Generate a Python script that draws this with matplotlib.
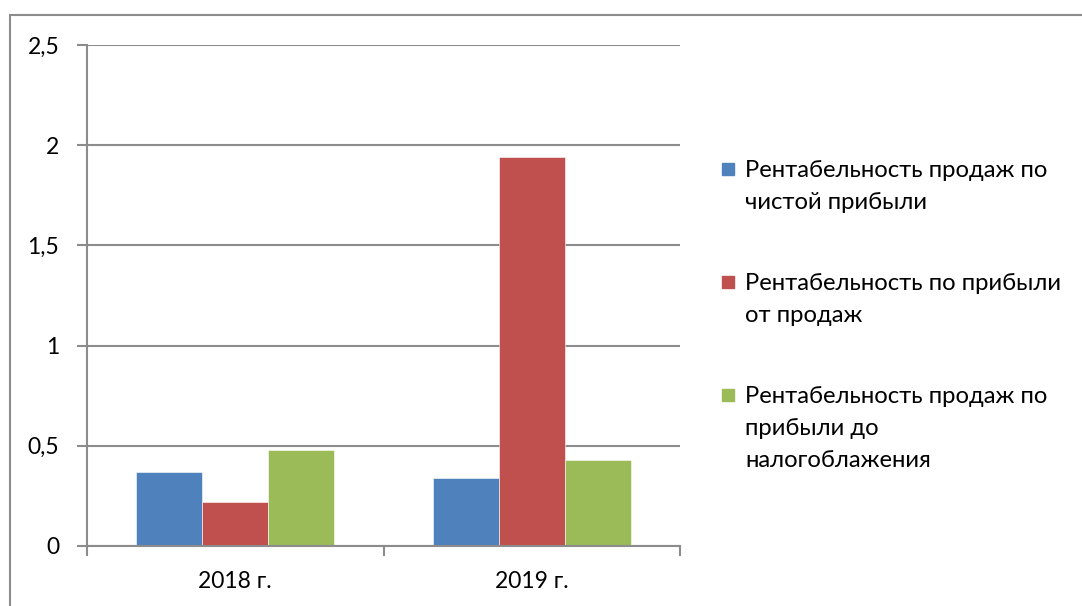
import matplotlib.pyplot as plt
from matplotlib.patches import Rectangle
import numpy as np

plt.rcParams['font.family'] = ['Lato', 'DejaVu Sans']

years = ['2018 г.', '2019 г.']
series = ['Рентабельность продаж по\nчистой прибыли',
          'Рентабельность по прибыли\nот продаж',
          'Рентабельность продаж по\nприбыли до\nналогоблажения']
net_profit = [0.37, 0.34]
sales_profit = [0.22, 1.94]
pretax_profit = [0.48, 0.43]
colors = ['#4F81BD', '#C0504D', '#9BBB59']
yticks = [0, 0.5, 1, 1.5, 2, 2.5]

W, H = 1082, 606
fig = plt.figure(figsize=(W / 100, H / 100), dpi=100)
ax = fig.add_axes([87 / W, 1 - 546 / H, (680 - 87) / W, (546 - 45) / H])

# outer chart border (only top/left visible in the crop)
fig.patches.append(Rectangle((10 / W, -0.1), 1.2, 1 - 15 / H + 0.1,
                             transform=fig.transFigure, fill=False,
                             edgecolor='#8c8c8c', linewidth=1.5))

x = np.arange(len(years))
w = 1 / 4.5
for i, vals in enumerate([net_profit, sales_profit, pretax_profit]):
    ax.bar(x + (i - 1) * w, vals, width=w, color=colors[i],
           edgecolor='white', linewidth=0.4, zorder=3)

ax.set_xlim(-0.5, 1.5)
ax.set_ylim(0, 2.5)
ax.set_yticks(yticks)
ax.set_yticklabels([('%g' % v).replace('.', ',') for v in yticks])
ax.set_xticks([-0.5, 0.5, 1.5])
ax.set_xticklabels([])
ax.set_xticks(x, minor=True)
ax.set_xticklabels(years, minor=True)
ax.tick_params(axis='x', which='major', length=7, width=1.5, color='#8c8c8c')
ax.tick_params(axis='x', which='minor', length=0, pad=18, labelsize=16.5)
ax.tick_params(axis='y', length=7, width=1.5, color='#8c8c8c', pad=13,
               labelsize=16.5)
ax.grid(axis='y', color='#8c8c8c', linewidth=1.5, zorder=0)
for s in ['top', 'right']:
    ax.spines[s].set_visible(False)
for s in ['left', 'bottom']:
    ax.spines[s].set_color('#8c8c8c')
    ax.spines[s].set_linewidth(1.5)
ax.spines['bottom'].set_zorder(4)

# legend, Excel style (marker next to first line)
baselines = [177, 290, 403]
line_step = 32
for lab, c, yy in zip(series, colors, baselines):
    fig.patches.append(Rectangle((722 / W, 1 - (yy - 2) / H), 12 / W, 12 / H,
                                 transform=fig.transFigure, color=c))
    for k, line in enumerate(lab.split('\n')):
        fig.text(745 / W, 1 - (yy + k * line_step) / H, line, fontsize=17.2,
                 va='baseline', ha='left')

fig.savefig('out.png', dpi=100)
